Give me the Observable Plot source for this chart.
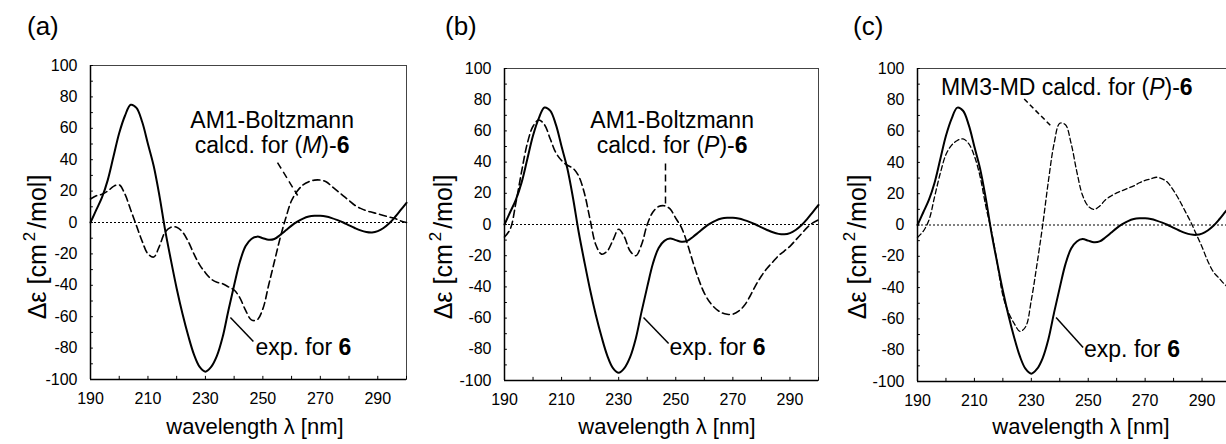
<!DOCTYPE html>
<html>
<head>
<meta charset="utf-8">
<script src="https://cdn.jsdelivr.net/npm/d3@7"></script>
<script src="https://cdn.jsdelivr.net/npm/@observablehq/plot@0.6"></script>
<style>
  html, body { margin: 0; padding: 0; background: #fff; overflow: hidden; }
  #wrap { position: relative; width: 1226px; height: 444px; overflow: hidden; }
  #wrap svg { position: absolute; top: 0; overflow: visible; }
  text { font-family: "Liberation Sans", Arial, Helvetica, sans-serif; }
</style>
</head>
<body>
<div id="wrap"></div>
<script>
// ---- data ----
const wavelength = [190,192,194,196,198,200,202,204,206,208,210,212,214,216,218,220,222,224,226,228,230,232,234,236,238,240,242,244,246,248,250,252,254,256,258,260,262,264,266,268,270,272,274,276,278,280,282,284,286,288,290,292,294,296,298,300];
const expValues = [0,8,16,27,42,57,68,75,73,64,50,36,17,-5,-24,-42,-58,-72,-84,-92,-95,-92,-85,-73,-56,-40,-25,-15,-10.5,-9,-10,-11,-10.5,-8,-5,-2,0.5,2.5,3.8,4.3,4.3,3.8,2.8,1.5,0,-1.8,-3.5,-5,-6,-6.3,-5.5,-3.5,-0.5,3.5,8,12.5];
const am1MValues = [15,17,18,20,23,24,18,8,-2,-12,-20,-22,-15,-6,-3,-3,-6,-12,-20,-27,-32,-36,-38,-39,-41,-43,-48,-56,-62,-62,-55,-40,-25,-10,3,14,20,24,26,27,27,26,23,20,17,14,11,9,7.5,6.5,5.5,4.5,3.5,2.5,1,0];
const am1PValues = [-8,-3,14,34,52,63,67,64,55,46,41,38,36,31,20,3,-13,-19,-17,-10,-3,-8,-17,-20,-13,0,8,11.5,12,10,4,-2,-12,-24,-35,-44,-50,-54,-56.5,-57.5,-57.5,-55.5,-52,-46,-39,-33,-28,-24,-20,-17,-14,-10,-6,-2,1,3];
const mm3Values = [-8,-4,3,18,33,45,51,54,55,52,44,31,12,-4,-24,-45,-56,-63,-68,-65,-48,-25,0,28,52,65,64,52,34,19,12,10,12,16,18.5,20.5,22,23.5,25,27,28.5,29.5,30.5,29.5,27,22,16,9,2,-6,-14,-23,-30,-34,-38,-41];

const xTickLabels = [190,210,230,250,270,290];
const xMinorTicks = [190,200,210,220,230,240,250,260,270,280,290,300];
const yTickLabels = [-100,-80,-60,-40,-20,0,20,40,60,80,100];
const yMinorTicks = [-100,-90,-80,-70,-60,-50,-40,-30,-20,-10,0,10,20,30,40,50,60,70,80,90,100];

const panelLabels = ["(a)", "(b)", "(c)"];
const xAxisTitle = "wavelength \u03BB [nm]";
const expLabel = ["exp. for ", "6"];

const rows = (vals) => wavelength.map((w, i) => ({w, v: vals[i]}));

// ---- panels ----
const panels = [
  {
    left: 0, width: 410, mL: 90, mR: 4, mT: 65, mB: 65,
    calc: am1MValues, dash: "7,4", dashWidth: 1.6,
    panelLabelX: 27,
    yLabelX: 46, xLabelX: 255,
    calcText: [
      {x: 253.4, y: 59.9, parts: [["AM1-Boltzmann", ""]]},
      {x: 253.4, y: 43.9, parts: [["calcd. for (", ""], ["M", "i"], [")-", ""], ["6", "b"]]}
    ],
    calcAnchor: "middle",
    calcLeader: {x1: 255.1, y1: 38.2, x2: 262.1, y2: 17.2},
    expText: {x: 247.6, y: -84.7},
    expLeader: {x1: 238.7, y1: -60.5, x2: 246.7, y2: -75.8}
  },
  {
    left: 410, width: 410, mL: 94, mR: 2, mT: 68, mB: 64,
    calc: am1PValues, dash: "7,4", dashWidth: 1.6,
    panelLabelX: 35,
    yLabelX: 42, xLabelX: 257,
    calcText: [
      {x: 248.9, y: 61.5, parts: [["AM1-Boltzmann", ""]]},
      {x: 248.9, y: 45.5, parts: [["calcd. for (", ""], ["P", "i"], [")-", ""], ["6", "b"]]}
    ],
    calcAnchor: "middle",
    calcLeader: {x1: 246.4, y1: 39.1, x2: 246.4, y2: 12.2},
    expText: {x: 248, y: -84},
    expLeader: {x1: 238.7, y1: -59.6, x2: 247.5, y2: -76.3}
  },
  {
    left: 816, width: 420, mL: 101, mR: 6, mT: 68, mB: 63,
    calc: mm3Values, dash: "5,3", dashWidth: 1.3,
    panelLabelX: 37,
    yLabelX: 50, xLabelX: 265,
    calcText: [
      {x: 198.4, y: 82.7, parts: [["MM3-MD calcd. for (", ""], ["P", "i"], [")-", ""], ["6", "b"]]}
    ],
    calcAnchor: "start",
    calcLeader: {x1: 227.5, y1: 80.5, x2: 236.9, y2: 63.3},
    expText: {x: 248.7, y: -84.7},
    expLeader: {x1: 238.7, y1: -59.1, x2: 248.2, y2: -78.3}
  }
];

const wrap = document.getElementById("wrap");

panels.forEach((p, idx) => {
  const plot = Plot.plot({
    width: p.width,
    height: 444,
    marginLeft: p.mL, marginRight: p.mR, marginTop: p.mT, marginBottom: p.mB,
    style: {fontFamily: "Liberation Sans, Arial, sans-serif", fontSize: "16px", color: "#000", background: "transparent"},
    x: {domain: [190, 300]},
    y: {domain: [-100, 100]},
    marks: [
      Plot.frame({stroke: "#444", strokeWidth: 1}),
      Plot.ruleY([0], {stroke: "#000", strokeWidth: 1, strokeDasharray: "2,2"}),
      Plot.ruleX(xMinorTicks, {x: d => d, y1: -100, y2: -98, stroke: "#000"}),
      Plot.ruleY(yMinorTicks, {y: d => d, x1: 190, x2: 191, stroke: "#000"}),
      Plot.ruleY([-100], {stroke: "#000", strokeWidth: 1.5}),
      Plot.ruleX([190], {stroke: "#000", strokeWidth: 1.5}),
      Plot.axisX({ticks: xTickLabels, tickSize: 0, tickPadding: 13, tickFormat: d => String(d), label: null, fontSize: 16}),
      Plot.axisY({ticks: yTickLabels, tickSize: 0, tickPadding: 13, tickFormat: d => String(d), label: null, fontSize: 16}),
      Plot.line(rows(p.calc), {x: "w", y: "v", curve: "catmull-rom", stroke: "#000", strokeWidth: p.dashWidth, strokeDasharray: p.dash}),
      Plot.line(rows(expValues), {x: "w", y: "v", curve: "catmull-rom", stroke: "#000", strokeWidth: 2}),
      Plot.link([p.calcLeader], {x1: "x1", y1: "y1", x2: "x2", y2: "y2", stroke: "#000", strokeWidth: 1.5, strokeDasharray: p.dash}),
      Plot.link([p.expLeader], {x1: "x1", y1: "y1", x2: "x2", y2: "y2", stroke: "#000", strokeWidth: 1.5})
    ]
  });
  plot.style.left = p.left + "px";
  wrap.appendChild(plot);

  const sx = plot.scale("x"), sy = plot.scale("y");
  const svg = d3.select(plot);
  const font = "Liberation Sans, Arial, sans-serif";

  // panel label
  svg.append("text").attr("x", p.panelLabelX).attr("y", 35)
    .attr("text-anchor", "start")
    .attr("font-size", 26).attr("font-family", font).attr("fill", "#000")
    .text(panelLabels[idx]);

  // x-axis title
  svg.append("text").attr("x", p.xLabelX).attr("y", 434)
    .attr("text-anchor", "middle").attr("font-size", 22).attr("font-family", font).attr("fill", "#000")
    .text(xAxisTitle);

  // y-axis title (rotated)
  const yl = svg.append("text")
    .attr("transform", `translate(${p.yLabelX},${247}) rotate(-90)`)
    .attr("text-anchor", "middle").attr("font-size", 25).attr("font-family", font).attr("fill", "#000");
  yl.append("tspan").text("\u0394\u03B5 [cm");
  yl.append("tspan").attr("dy", -11).attr("dx", 3).attr("font-size", 17).text("2");
  yl.append("tspan").attr("dy", 11).attr("dx", 3).text("/mol]");

  // calculated-curve annotation
  p.calcText.forEach(line => {
    const t = svg.append("text").attr("x", sx.apply(line.x)).attr("y", sy.apply(line.y))
      .attr("text-anchor", p.calcAnchor).attr("font-size", 23).attr("font-family", font).attr("fill", "#000");
    line.parts.forEach(([s, st]) => {
      const ts = t.append("tspan").text(s);
      if (st === "i") ts.attr("font-style", "italic");
      if (st === "b") ts.attr("font-weight", "bold");
    });
  });

  // experimental annotation
  const te = svg.append("text").attr("x", sx.apply(p.expText.x)).attr("y", sy.apply(p.expText.y))
    .attr("text-anchor", "start")
    .attr("font-size", 23).attr("font-family", font).attr("fill", "#000");
  te.append("tspan").text(expLabel[0]);
  te.append("tspan").attr("font-weight", "bold").text(expLabel[1]);
});
</script>
</body>
</html>
